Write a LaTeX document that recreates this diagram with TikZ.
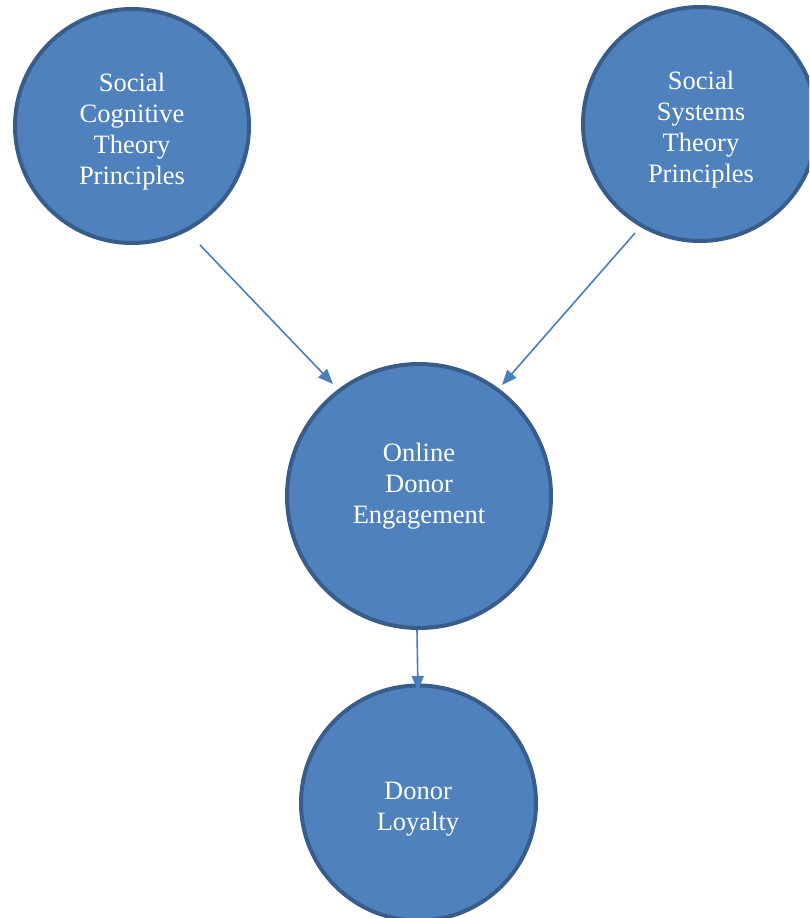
\documentclass[tikz,border=0pt]{standalone}
\usepackage{fontspec}
\setmainfont{Liberation Serif}
\usetikzlibrary{arrows.meta}
\definecolor{cfill}{HTML}{4F81BD}
\definecolor{cline}{HTML}{385D8A}
\definecolor{carrow}{HTML}{4A7EBB}
\tikzset{
  bubble/.style={circle, fill=cfill, draw=cline, line width=4pt, inner sep=0pt},
  btext/.style={text=white, align=center, inner sep=0pt, font=\fontsize{26.5}{31}\selectfont},
  link/.style={draw=carrow, line width=1.6pt, -{Triangle[length=15pt,width=12pt]}}
}
\begin{document}
\begin{tikzpicture}[x=1pt,y=-1pt]
\useasboundingbox (0,0) rectangle (809,918);
\clip (0,0) rectangle (809,918);
\node[bubble, minimum size=234pt] (sct) at (132,126) {};
\node[btext] (scttext) at (132,132) {Social\\Cognitive\\Theory\\Principles};
\node[bubble, minimum size=234pt] (sst) at (700,124) {};
\node[btext] (ssttext) at (701,130) {Social\\Systems\\Theory\\Principles};
\node[bubble, minimum size=264pt] (ode) at (419,496) {};
\node[btext] (odetext) at (419,486) {Online\\Donor\\Engagement};
\node[bubble, minimum size=235pt] (dl) at (418.5,803) {};
\node[btext] (dltext) at (418,809) {Donor\\Loyalty};
\coordinate (a1s) at (200,245);
\coordinate (a1e) at (333,384);
\coordinate (a2s) at (635,233);
\coordinate (a2e) at (502,385);
\coordinate (a3s) at (417,630);
\coordinate (a3e) at (418,691);
\draw[link] (a1s) -- (a1e);
\draw[link] (a2s) -- (a2e);
\draw[link] (a3s) -- (a3e);
\end{tikzpicture}
\end{document}
